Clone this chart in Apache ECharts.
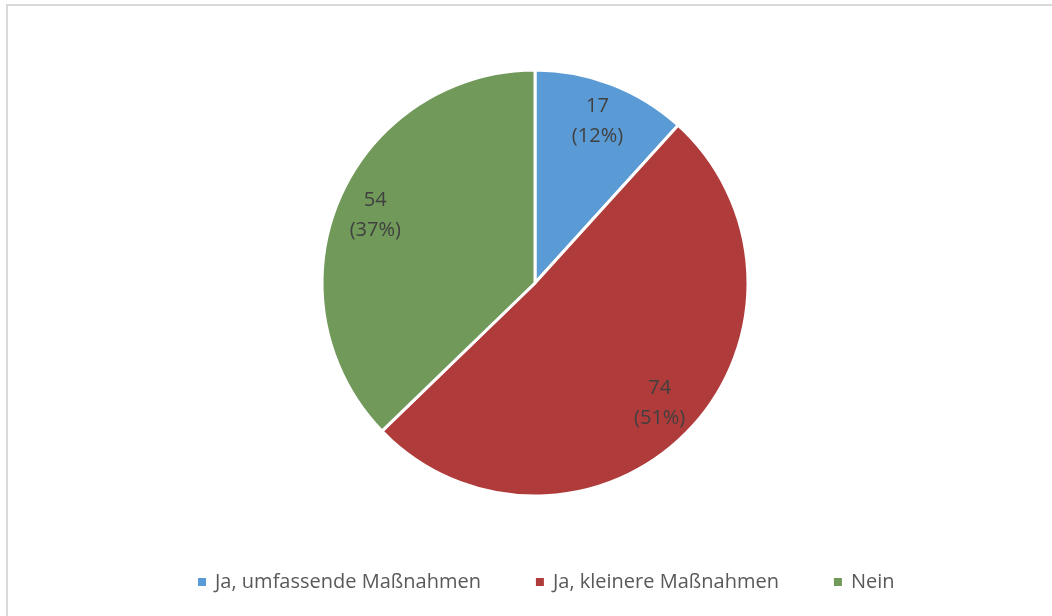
<!DOCTYPE html>
<html>
<head>
<meta charset="utf-8">
<script src="https://cdn.jsdelivr.net/npm/echarts@6/dist/echarts.min.js"></script>
<style>
  html, body { margin: 0; padding: 0; background: #fff; }
  #frame {
    position: absolute; left: 6px; top: 4px; width: 1046px; height: 612px;
    border-top: 2px solid #d9d9d9; border-left: 2px solid #d9d9d9;
  }
  #chart { position: absolute; left: 0; top: 0; width: 1052px; height: 616px; }
</style>
</head>
<body>
<div id="frame"></div>
<div id="chart"></div>
<script>
// Daten
var categories = ['Ja, umfassende Maßnahmen', 'Ja, kleinere Maßnahmen', 'Nein'];
var values = [17, 74, 54];
var colors = ['#5B9BD5', '#B03B3B', '#71995A'];

var total = values.reduce(function (a, b) { return a + b; }, 0);
var pieData = categories.map(function (c, i) {
  return { name: c, value: values[i], itemStyle: { color: colors[i] } };
});

var chart = echarts.init(document.getElementById('chart'));
chart.setOption({
  animation: false,
  legend: {
    data: categories,
    bottom: 19,
    left: 191,
    icon: 'rect',
    itemWidth: 10,
    itemHeight: 10,
    itemGap: 53,
    textStyle: { color: '#595959', fontSize: 20, fontFamily: 'Open Sans', padding: [0, 0, 0, 3] }
  },
  series: [
    {
      type: 'pie',
      center: [535, 283],
      radius: [0, 213],
      startAngle: 90,
      clockwise: true,
      data: pieData,
      label: { show: false },
      labelLine: { show: false },
      itemStyle: { borderColor: '#fff', borderWidth: 3 },
      emphasis: { disabled: true }
    },
    {
      // transparente Ebene nur fuer die Beschriftung (bei ~80% des Radius)
      type: 'pie',
      center: [535, 283],
      radius: [128, 213],
      startAngle: 90,
      clockwise: true,
      silent: true,
      data: categories.map(function (c, i) {
        return { name: c, value: values[i] };
      }),
      itemStyle: { color: 'rgba(0,0,0,0)' },
      label: {
        show: true,
        position: 'inside',
        color: '#404040',
        fontSize: 20,
        fontFamily: 'Open Sans',
        lineHeight: 30,
        formatter: function (p) {
          return p.value + '\n(' + Math.round(p.value / total * 100) + '%)';
        }
      },
      labelLine: { show: false },
      emphasis: { disabled: true }
    }
  ]
});
</script>
</body>
</html>
